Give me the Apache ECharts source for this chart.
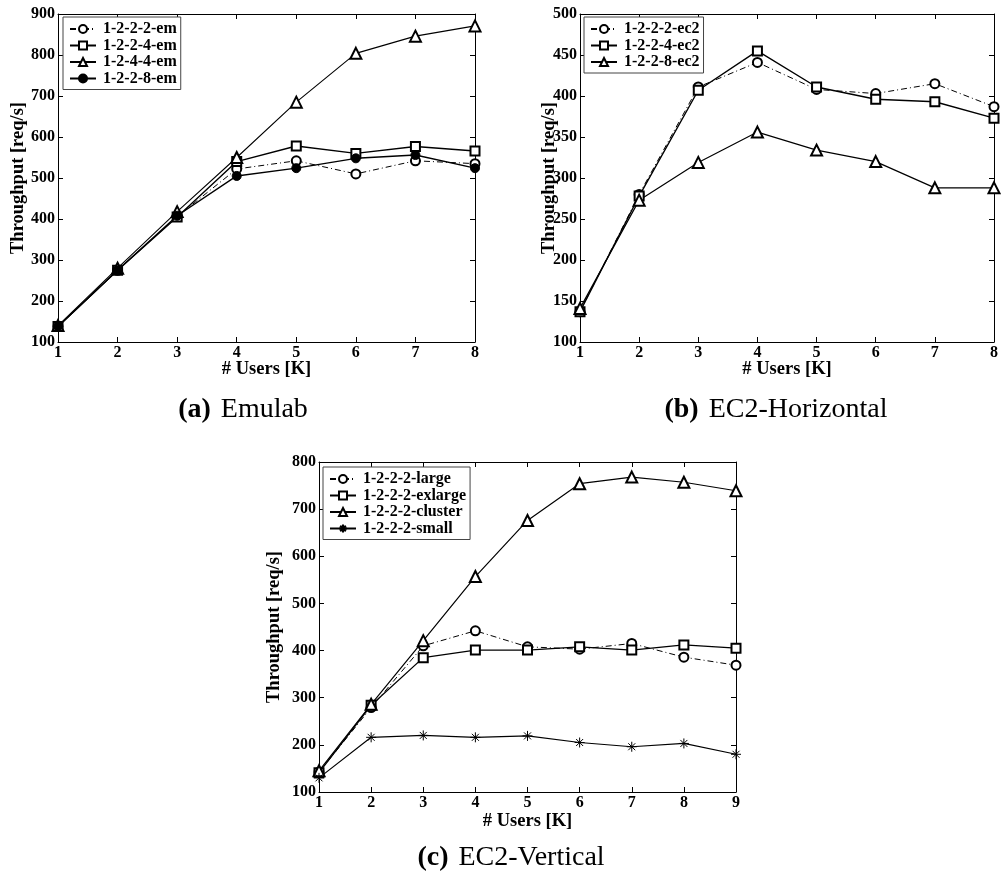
<!DOCTYPE html>
<html>
<head>
<meta charset="utf-8">
<script src="https://cdn.jsdelivr.net/npm/echarts@6/dist/echarts.min.js"></script>
<style>
  html, body { margin: 0; padding: 0; background: #fff; }
  #chart { width: 1001px; height: 876px; }
</style>
</head>
<body>
<div id="chart"></div>
<script>
// (a) Emulab
const usersEmulab = [1, 2, 3, 4, 5, 6, 7, 8];
const em1222 = [138, 275, 406, 522, 542, 510, 542, 535];
const em1224 = [138, 275, 405, 540, 578, 560, 577, 566];
const em1244 = [140, 280, 418, 550, 685, 804, 846, 871];
const em1228 = [138, 275, 408, 505, 524, 548, 556, 524];

// (b) EC2-Horizontal
const usersHoriz = [1, 2, 3, 4, 5, 6, 7, 8];
const ec1222 = [137, 280, 411, 441, 408, 403, 415, 387];
const ec1224 = [137, 278, 407, 455, 411, 396, 393, 373];
const ec1228 = [141, 273, 319, 356, 334, 320, 288, 288];

// (c) EC2-Vertical
const usersVert = [1, 2, 3, 4, 5, 6, 7, 8, 9];
const vLarge = [142, 279, 410, 442, 408, 403, 415, 386, 369];
const vExlarge = [141, 284, 385, 401, 401, 408, 401, 412, 405];
const vCluster = [145, 286, 421, 557, 676, 754, 768, 757, 739];
const vSmall = [130, 216, 220, 216, 219, 205, 196, 203, 180];

const captions = [
  { tag: '(a)', text: 'Emulab' },
  { tag: '(b)', text: 'EC2-Horizontal' },
  { tag: '(c)', text: 'EC2-Vertical' }
];

const SERIF = '"Liberation Serif", "Times New Roman", serif';
const INK = '#000';
const STAR = 'path://M0,-10L0,10M-10,0L10,0M-7,-7L7,7M-7,7L7,-7';

const panels = [
  { grid: { left: 58, top: 14, width: 417, height: 328 }, xMax: 8, yMin: 100, yMax: 900, yStep: 100, yGap: 30, xGap: 18 },
  { grid: { left: 580, top: 14, width: 417, height: 328 }, xMax: 8, yMin: 100, yMax: 500, yStep: 50, yGap: 21, xGap: 18 },
  { grid: { left: 319, top: 462, width: 417, height: 330 }, xMax: 9, yMin: 100, yMax: 800, yStep: 100, yGap: 35, xGap: 20 }
];

const tickLabel = { fontFamily: SERIF, fontWeight: 'bold', fontSize: 16, color: INK };
const nameStyle = { fontFamily: SERIF, fontWeight: 'bold', fontSize: 18.5, color: INK };

const grid = [], xAxis = [], yAxis = [];
panels.forEach((p, i) => {
  grid.push(Object.assign({ show: false }, p.grid));
  const common = {
    gridIndex: i,
    type: 'value',
    axisLine: { show: true, onZero: false, lineStyle: { color: INK, width: 1 } },
    axisTick: { show: true, inside: true, length: 5, lineStyle: { color: INK } },
    splitLine: { show: false }
  };
  // bottom x axis carries the labels and the title
  xAxis.push(Object.assign({}, common, {
    position: 'bottom', min: 1, max: p.xMax, interval: 1,
    name: '# Users [K]', nameLocation: 'middle', nameGap: p.xGap, nameMoveOverlap: false,
    nameTextStyle: nameStyle,
    axisLabel: Object.assign({ margin: 3 }, tickLabel)
  }));
  // top mirror axis: ticks only
  xAxis.push(Object.assign({}, common, {
    position: 'top', min: 1, max: p.xMax, interval: 1, axisLabel: { show: false }
  }));
  yAxis.push(Object.assign({}, common, {
    position: 'left', min: p.yMin, max: p.yMax, interval: p.yStep,
    name: 'Throughput [req/s]', nameLocation: 'middle', nameGap: p.yGap, nameMoveOverlap: false,
    nameTextStyle: nameStyle,
    axisLabel: Object.assign({ margin: 3 }, tickLabel)
  }));
  // right mirror axis: ticks only
  yAxis.push(Object.assign({}, common, {
    position: 'right', min: p.yMin, max: p.yMax, interval: p.yStep, axisLabel: { show: false }
  }));
});

function pairs(xs, ys) { return xs.map((x, k) => [x, ys[k]]); }

function line(name, panel, xs, ys, symbol, opts) {
  opts = opts || {};
  return {
    type: 'line', name: name,
    xAxisIndex: panel * 2, yAxisIndex: panel * 2,
    data: pairs(xs, ys),
    symbol: symbol, symbolSize: opts.size || 9, symbolKeepAspect: true,
    showAllSymbol: true,
    animation: false,
    lineStyle: { color: INK, width: opts.width || 1.2, type: opts.dash || 'solid' },
    itemStyle: { color: INK, borderColor: INK, borderWidth: 1 },
    emphasis: { disabled: true },
    z: opts.z || 2
  };
}

const DASHDOT = [6, 3, 1, 3];

const series = [
  line('1-2-2-2-em', 0, usersEmulab, em1222, 'emptyCircle', { dash: DASHDOT, width: 1 }),
  line('1-2-2-4-em', 0, usersEmulab, em1224, 'emptyRect', { size: 9, width: 1.4 }),
  line('1-2-4-4-em', 0, usersEmulab, em1244, 'emptyTriangle', { size: 11, width: 1.1 }),
  line('1-2-2-8-em', 0, usersEmulab, em1228, 'circle', { size: 9, width: 1.4, z: 3 }),

  line('1-2-2-2-ec2', 1, usersHoriz, ec1222, 'emptyCircle', { dash: DASHDOT, width: 1 }),
  line('1-2-2-4-ec2', 1, usersHoriz, ec1224, 'emptyRect', { size: 9, width: 1.4 }),
  line('1-2-2-8-ec2', 1, usersHoriz, ec1228, 'emptyTriangle', { size: 11, width: 1.2 }),

  line('1-2-2-2-large', 2, usersVert, vLarge, 'emptyCircle', { dash: DASHDOT, width: 1 }),
  line('1-2-2-2-exlarge', 2, usersVert, vExlarge, 'emptyRect', { size: 9, width: 1.3 }),
  line('1-2-2-2-cluster', 2, usersVert, vCluster, 'emptyTriangle', { size: 11, width: 1.2 }),
  line('1-2-2-2-small', 2, usersVert, vSmall, STAR, { size: 10, width: 1.2 })
];

const legendBase = {
  orient: 'vertical',
  itemWidth: 26, itemHeight: 10, itemGap: 0.5,
  padding: [4, 4, 3, 6],
  borderColor: '#444', borderWidth: 1,
  backgroundColor: '#fff',
  textStyle: { fontFamily: SERIF, fontWeight: 'bold', fontSize: 16, lineHeight: 15, color: INK, padding: [0, 0, 0, 2] },
  selectedMode: false,
  inactiveColor: INK
};

const legend = [
  Object.assign({}, legendBase, { left: 63, top: 17, data: ['1-2-2-2-em', '1-2-2-4-em', '1-2-4-4-em', '1-2-2-8-em'] }),
  Object.assign({}, legendBase, { left: 584, top: 17, data: ['1-2-2-2-ec2', '1-2-2-4-ec2', '1-2-2-8-ec2'] }),
  Object.assign({}, legendBase, { left: 323, top: 467, data: ['1-2-2-2-large', '1-2-2-2-exlarge', '1-2-2-2-cluster', '1-2-2-2-small'] })
];

// figure sub-captions
const captionPos = [[243, 410], [776, 410], [511, 858]];
const graphic = captions.map((c, i) => ({
  type: 'text',
  x: captionPos[i][0], y: captionPos[i][1],
  silent: true,
  style: {
    text: '{t|' + c.tag + '}{n|' + c.text + '}',
    align: 'center', verticalAlign: 'middle',
    fill: INK,
    rich: {
      t: { fontFamily: SERIF, fontWeight: 'bold', fontSize: 28, fill: INK, padding: [0, 10, 0, 0] },
      n: { fontFamily: SERIF, fontWeight: 'normal', fontSize: 28, fill: INK }
    }
  }
}));

const chart = echarts.init(document.getElementById('chart'), null, { renderer: 'canvas' });
chart.setOption({
  animation: false,
  backgroundColor: '#fff',
  grid: grid,
  xAxis: xAxis,
  yAxis: yAxis,
  legend: legend,
  series: series,
  graphic: graphic
});
</script>
</body>
</html>
